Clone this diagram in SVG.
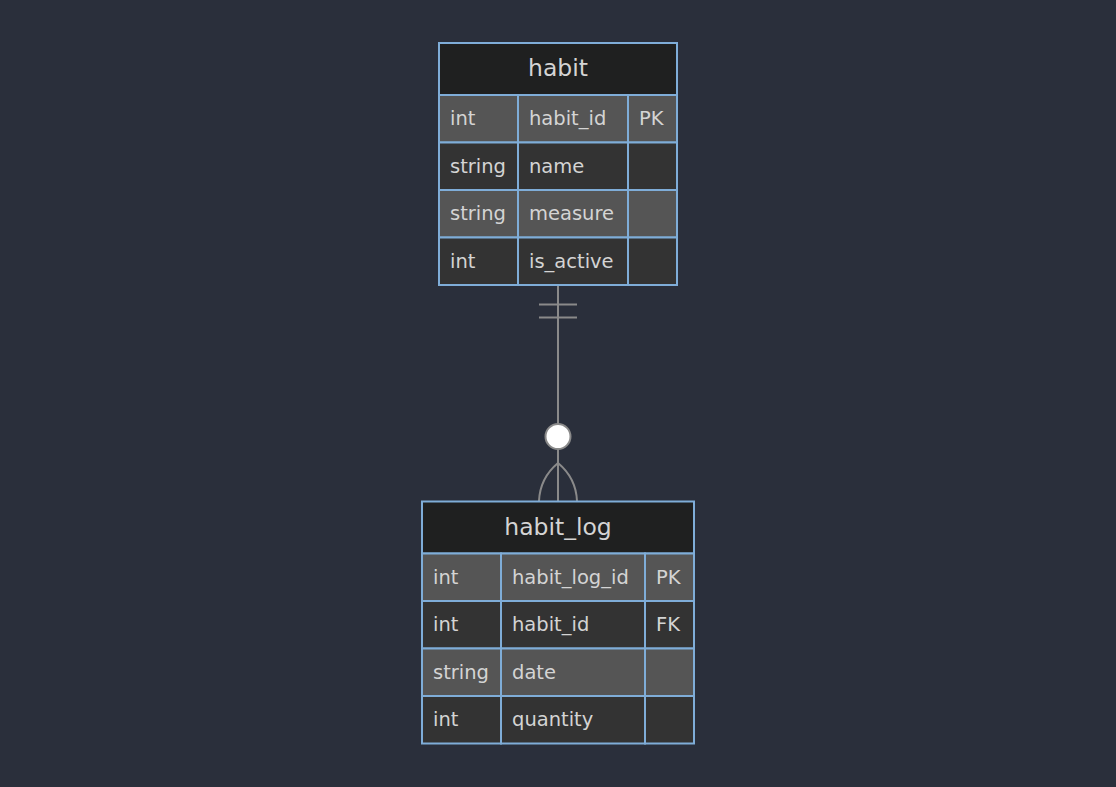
<svg xmlns="http://www.w3.org/2000/svg" width="1116" height="787" viewBox="0 0 1116 787">
<style>
.bg{fill:#2a2f3b}
.hdr{fill:#1f2020;stroke:#7fadd8;stroke-width:2}
.odd{fill:#555555;stroke:#7fadd8;stroke-width:2}
.even{fill:#333333;stroke:#7fadd8;stroke-width:2}
.ht{font-family:"DejaVu Sans",sans-serif;font-size:23.5px;fill:#d4d4d4;text-anchor:middle}
.at{font-family:"DejaVu Sans",sans-serif;font-size:19.5px;fill:#d4d4d4}
.ln{fill:none;stroke:#8a8a8a;stroke-width:2}
</style>
<rect class="bg" x="0" y="0" width="1116" height="787"/>
<g id="connectors">
<path class="ln" d="M558,286 V501"/>
<path class="ln" d="M539,304.5 H577 M539,317.5 H577"/>
<circle cx="558" cy="436.5" r="12.5" fill="#ffffff" stroke="#8a8a8a" stroke-width="2"/>
<path class="ln" d="M558,463 Q540,478 539,501 M558,463 Q576,478 577,501"/>
</g>
<g id="habit">
<rect class="hdr" x="439" y="43" width="238" height="52"/>
<text class="ht" x="558" y="76">habit</text>
<rect class="odd" x="439" y="95" width="79" height="47.5"/>
<rect class="odd" x="518" y="95" width="110" height="47.5"/>
<rect class="odd" x="628" y="95" width="49" height="47.5"/>
<rect class="even" x="439" y="142.5" width="79" height="47.5"/>
<rect class="even" x="518" y="142.5" width="110" height="47.5"/>
<rect class="even" x="628" y="142.5" width="49" height="47.5"/>
<rect class="odd" x="439" y="190" width="79" height="47.5"/>
<rect class="odd" x="518" y="190" width="110" height="47.5"/>
<rect class="odd" x="628" y="190" width="49" height="47.5"/>
<rect class="even" x="439" y="237.5" width="79" height="47.5"/>
<rect class="even" x="518" y="237.5" width="110" height="47.5"/>
<rect class="even" x="628" y="237.5" width="49" height="47.5"/>
<text class="at" x="450" y="125">int</text>
<text class="at" x="529" y="125">habit_id</text>
<text class="at" x="639" y="125">PK</text>
<text class="at" x="450" y="172.5">string</text>
<text class="at" x="529" y="172.5">name</text>
<text class="at" x="450" y="220">string</text>
<text class="at" x="529" y="220">measure</text>
<text class="at" x="450" y="267.5">int</text>
<text class="at" x="529" y="267.5">is_active</text>
</g>
<g id="habit_log">
<rect class="hdr" x="422" y="501.5" width="272" height="52"/>
<text class="ht" x="558" y="534.5">habit_log</text>
<rect class="odd" x="422" y="553.5" width="79" height="47.5"/>
<rect class="odd" x="501" y="553.5" width="144" height="47.5"/>
<rect class="odd" x="645" y="553.5" width="49" height="47.5"/>
<rect class="even" x="422" y="601" width="79" height="47.5"/>
<rect class="even" x="501" y="601" width="144" height="47.5"/>
<rect class="even" x="645" y="601" width="49" height="47.5"/>
<rect class="odd" x="422" y="648.5" width="79" height="47.5"/>
<rect class="odd" x="501" y="648.5" width="144" height="47.5"/>
<rect class="odd" x="645" y="648.5" width="49" height="47.5"/>
<rect class="even" x="422" y="696" width="79" height="47.5"/>
<rect class="even" x="501" y="696" width="144" height="47.5"/>
<rect class="even" x="645" y="696" width="49" height="47.5"/>
<text class="at" x="433" y="583.5">int</text>
<text class="at" x="512" y="583.5">habit_log_id</text>
<text class="at" x="656" y="583.5">PK</text>
<text class="at" x="433" y="631">int</text>
<text class="at" x="512" y="631">habit_id</text>
<text class="at" x="656" y="631">FK</text>
<text class="at" x="433" y="678.5">string</text>
<text class="at" x="512" y="678.5">date</text>
<text class="at" x="433" y="726">int</text>
<text class="at" x="512" y="726">quantity</text>
</g>
</svg>
